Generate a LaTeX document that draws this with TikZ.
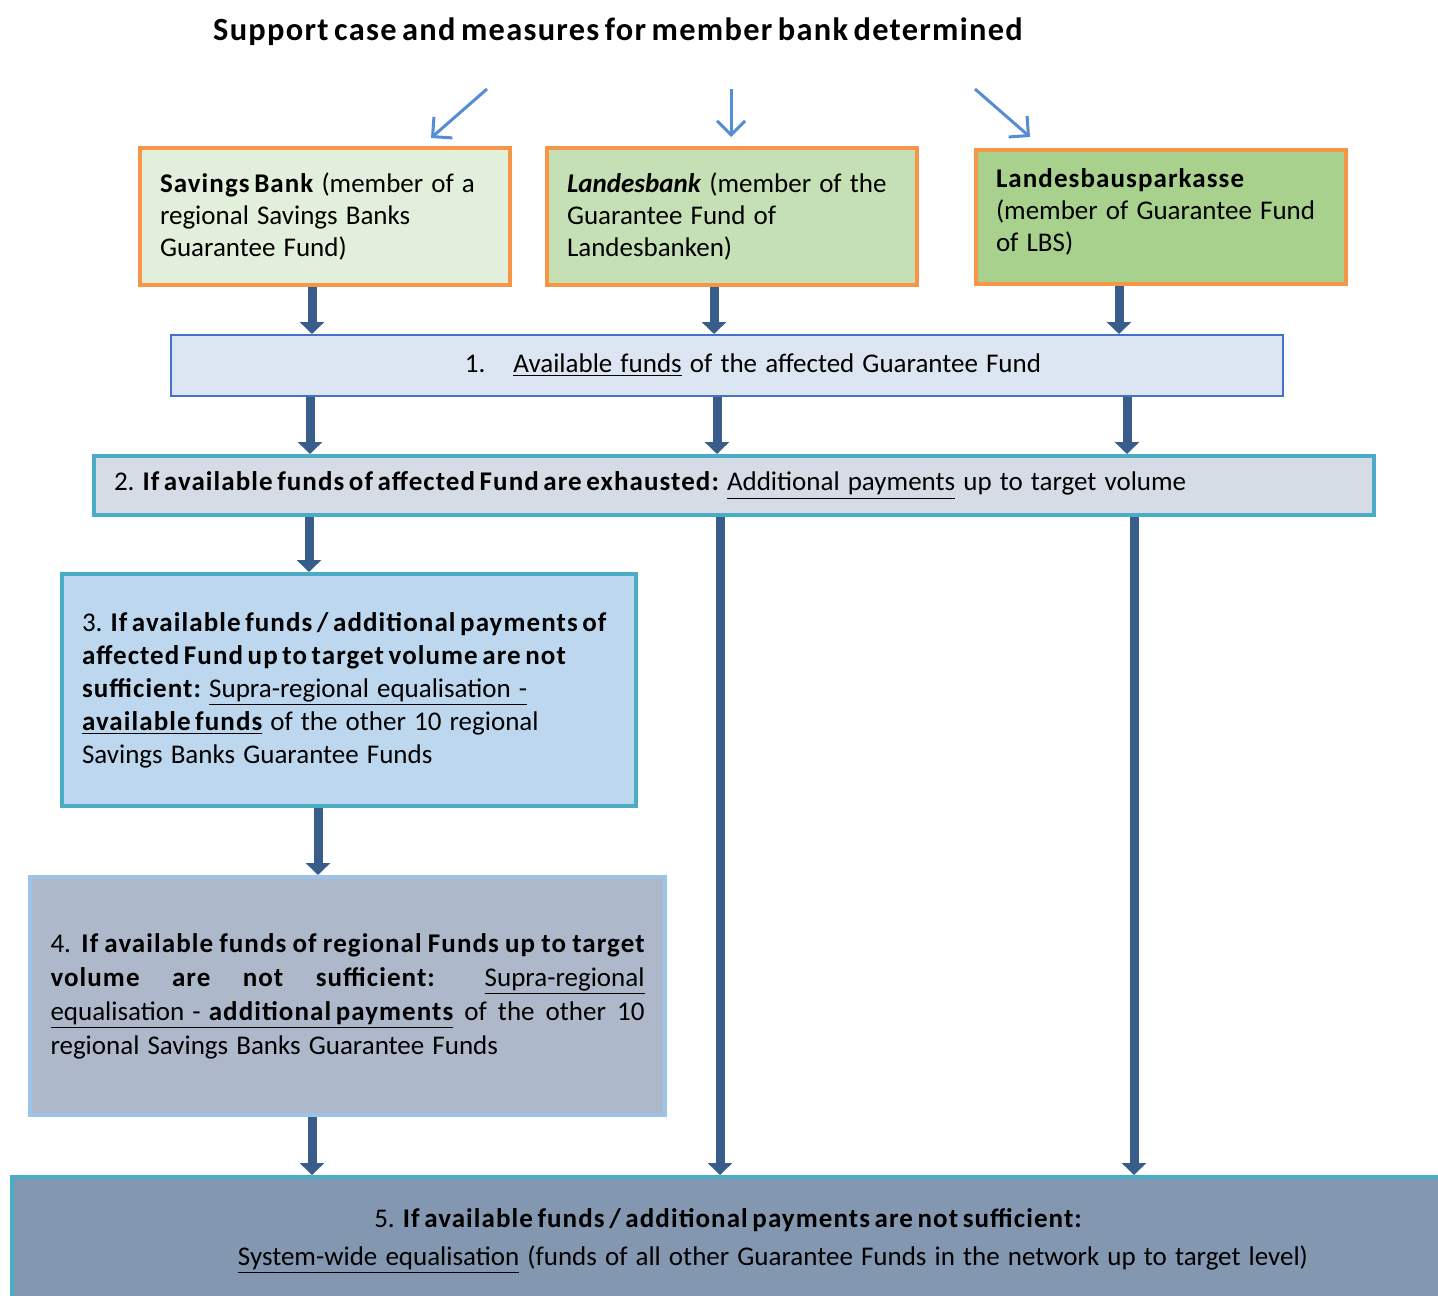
\documentclass[tikz,border=0pt]{standalone}
\usepackage{fontspec}
\setmainfont{Carlito}[BoldFeatures={LetterSpace=4}]
\usepackage{color}
\usepackage{tikz}
\usetikzlibrary{arrows.meta}

\definecolor{orangeline}{RGB}{247,150,70}
\definecolor{sbfill}{RGB}{226,239,218}
\definecolor{lbfill}{RGB}{197,224,180}
\definecolor{lbsfill}{RGB}{169,209,142}
\definecolor{pointblue}{RGB}{84,141,212}
\definecolor{flowblue}{RGB}{56,93,138}
\definecolor{onefill}{RGB}{220,230,242}
\definecolor{oneline}{RGB}{68,114,196}
\definecolor{twofill}{RGB}{214,220,229}
\definecolor{tealline}{RGB}{75,172,198}
\definecolor{threefill}{RGB}{189,215,238}
\definecolor{fourfill}{RGB}{173,185,202}
\definecolor{fourline}{RGB}{157,195,230}
\definecolor{fivefill}{RGB}{132,151,176}

% tight bold words, as in the original slides
\newcommand{\tightbf}[1]{{\bfseries\spaceskip=0.17em plus 0.08em minus 0.03em\relax #1}}
\newcommand{\plainspace}{\frenchspacing\spaceskip=0.3em plus 0.12em minus 0.05em\relax}

\begin{document}
\begin{tikzpicture}[x=0.5pt,y=-0.5pt,
    fundbox/.style={rectangle,draw=orangeline,line width=2pt,align=left,inner xsep=10pt,text width=165pt,minimum height=68.5pt,font=\fontsize{13.5}{16}\selectfont,execute at begin node=\plainspace},
    stepbox/.style={rectangle,draw,line width=2pt,align=left,inner xsep=10pt,font=\fontsize{13.5}{16.5}\selectfont,execute at begin node=\plainspace},
    pointer/.style={pointblue,line width=1.5pt,-{Straight Barb[length=7pt,width=14pt]}},
    flow/.style={flowblue,line width=4.5pt,-{Triangle[length=6pt,width=12pt]}}]
    \useasboundingbox (0,0) rectangle (1438,1295);
    \node (title) at (618,32) {\fontsize{16.2}{20}\selectfont\tightbf{Support case and measures for member bank determined}};
    % the three members
    \node[fundbox] (sb) [fill=sbfill] at (325,216.5) {\tightbf{Savings Bank} (member of a\\regional Savings Banks\\Guarantee Fund)};
    \node[fundbox] (lb) [fill=lbfill] at (732,216.5) {\tightbf{\textit{Landesbank}} (member of the\\Guarantee Fund of\\Landesbanken)};
    \node[fundbox] (lbs) [fill=lbsfill, minimum height=67pt] at (1161,217) {\tightbf{Landesbausparkasse}\\(member of Guarantee Fund\\of LBS)\\[-9pt]\mbox{}};
    % steps
    \node[stepbox] (avail) [draw=oneline, line width=1pt, fill=onefill, minimum width=556pt, minimum height=30.5pt, align=center] at (727,365.5) {\hspace*{26pt}1.\hspace{14pt}\underline{Available funds} of the affected Guarantee Fund};
    \node[stepbox] (exhaust) [draw=tealline, fill=twofill, text width=620pt, minimum height=29.5pt] at (734,485.5) {2. \tightbf{If available funds of affected Fund are exhausted:} \underline{Additional payments} up to target volume};
    \node[stepbox] (supra) [draw=tealline, fill=threefill, text width=267pt, minimum height=116pt] at (349,690) {3. \tightbf{If available funds / additional payments of}\\\tightbf{affected Fund up to target volume are not}\\\tightbf{sufficient:} \underline{Supra-regional equalisation -}\\\underline{\tightbf{available funds}} of the other 10 regional\\Savings Banks Guarantee Funds};
    \node[stepbox] (supraadd) [draw=fourline, fill=fourfill, text width=297pt, inner xsep=10.25pt, minimum height=119pt, align=justify, font=\fontsize{13.5}{17}\selectfont] at (347.5,996) {4. \tightbf{If available funds of regional Funds up to target}\linebreak \tightbf{volume are not sufficient:} \underline{Supra-regional}\linebreak \underline{equalisation - \tightbf{additional payments}} of the other 10\linebreak regional Savings Banks Guarantee Funds};
    \node[stepbox] (network) [draw=tealline, fill=fivefill, minimum width=738pt, minimum height=64pt, align=center, font=\fontsize{13.5}{19}\selectfont] at (750,1241) {\hspace*{-22pt}5. \tightbf{If available funds / additional payments are not sufficient:}\\\hspace*{23pt}\underline{System-wide equalisation} (funds of all other Guarantee Funds in the network up to target level)};
    % pointers from the title
    \coordinate (p1) at (487,89);
    \coordinate (q1) at (431,138);
    \coordinate (p2) at (731,89);
    \coordinate (q2) at (731,137);
    \coordinate (p3) at (975,89);
    \coordinate (q3) at (1030,137);
    \path[pointer]
    (p1) edge (q1)
    (p2) edge (q2)
    (p3) edge (q3);
    % flow between the boxes
    \coordinate (sbout) at ([xshift=-6.5pt]sb.south);
    \coordinate (lbout) at ([xshift=-9pt]lb.south);
    \coordinate (lbsout) at ([xshift=-21pt]lbs.south);
    \coordinate (availa) at ([xshift=-208.5pt]avail.south);
    \coordinate (availb) at ([xshift=-5pt]avail.south);
    \coordinate (availc) at ([xshift=200pt]avail.south);
    \coordinate (exhausta) at ([xshift=-212.5pt]exhaust.south);
    \coordinate (exhaustb) at ([xshift=-7pt]exhaust.south);
    \coordinate (exhaustc) at ([xshift=200pt]exhaust.south);
    \coordinate (supraout) at ([xshift=-15.5pt]supra.south);
    \coordinate (supraaddout) at ([xshift=-17.75pt]supraadd.south);
    \path[flow]
    (sbout) edge (sbout |- avail.north)
    (lbout) edge (lbout |- avail.north)
    (lbsout) edge (lbsout |- avail.north)
    (availa) edge (availa |- exhaust.north)
    (availb) edge (availb |- exhaust.north)
    (availc) edge (availc |- exhaust.north)
    (exhausta) edge (exhausta |- supra.north)
    (exhaustb) edge (exhaustb |- network.north)
    (exhaustc) edge (exhaustc |- network.north)
    (supraout) edge (supraout |- supraadd.north)
    (supraaddout) edge (supraaddout |- network.north);
\end{tikzpicture}
\end{document}
